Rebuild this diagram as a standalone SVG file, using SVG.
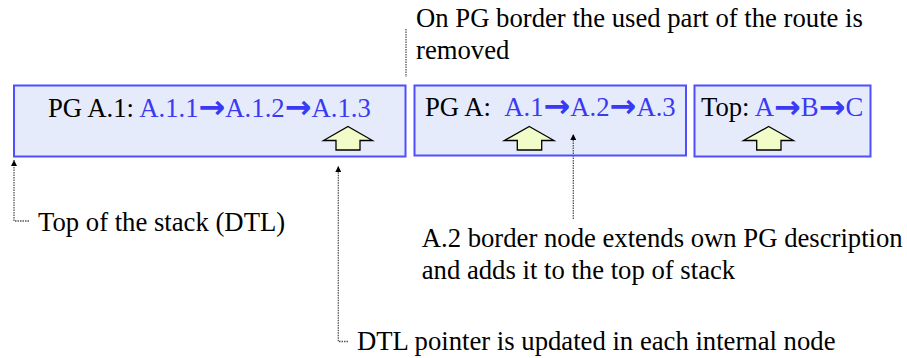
<svg xmlns="http://www.w3.org/2000/svg" width="907" height="358" viewBox="0 0 907 358">
<defs>
<style>
.box{fill:#E6EBFB;stroke:#4F4FFF;stroke-width:2}
.t{font-family:"Liberation Serif","Times New Roman",Times,serif;font-size:26.7px;fill:#000}
.b{fill:#3A3AF5}
.ar{font-family:"DejaVu Sans",sans-serif;font-weight:bold;font-size:32px}
.ptr{fill:#F2FCC8;stroke:#000;stroke-width:1.3;stroke-linejoin:miter}
.dot{fill:none;stroke:#555;stroke-width:1.3;stroke-dasharray:1.5 1}
</style>
<marker id="ah" viewBox="0 0 10 10" refX="10" refY="5" markerWidth="6" markerHeight="6" markerUnits="userSpaceOnUse" orient="auto">
<path d="M0,0 L10,5 L0,10 z" fill="#000"/>
</marker>
</defs>
<rect width="907" height="358" fill="#fff"/>
<g id="box-pg-a1">
<rect class="box" x="14" y="85.5" width="391.5" height="71"/>
<text class="t" x="48" y="116.5">PG A.1: <tspan class="b">A.1.1<tspan class="ar" dy="1.5">→</tspan><tspan dy="-1.5">A.1.2</tspan><tspan class="ar" dy="1.5">→</tspan><tspan dy="-1.5">A.1.3</tspan></tspan></text>
<path class="ptr" d="M348,126.5 L372.5,140.5 L360,140.5 L360,150 L336,150 L336,140.5 L323.5,140.5 z"/>
</g>
<g id="box-pg-a">
<rect class="box" x="414.5" y="85.5" width="271.5" height="70"/>
<text class="t" x="425" y="115.5">PG A:  <tspan class="b" dx="8">A.1<tspan class="ar" dy="1.5">→</tspan><tspan dy="-1.5">A.2</tspan><tspan class="ar" dy="1.5">→</tspan><tspan dy="-1.5">A.3</tspan></tspan></text>
<path class="ptr" d="M529.3,126.5 L554,140.5 L541.7,140.5 L541.7,150 L517.3,150 L517.3,140.5 L504.3,140.5 z"/>
</g>
<g id="box-top">
<rect class="box" x="694.5" y="85.5" width="176" height="71"/>
<text class="t" x="701" y="116">Top: <tspan class="b">A<tspan class="ar" dy="1.5">→</tspan><tspan dy="-1.5">B</tspan><tspan class="ar" dy="1.5">→</tspan><tspan dy="-1.5">C</tspan></tspan></text>
<path class="ptr" d="M768.7,126.5 L793.5,140.5 L781,140.5 L781,150 L756.7,150 L756.7,140.5 L743.5,140.5 z"/>
</g>
<g id="connectors">
<path class="dot" d="M29,221 L14,221 L14,160" marker-end="url(#ah)"/>
<path class="dot" d="M348,341.5 L338.3,341.5 L338.3,166" marker-end="url(#ah)"/>
<path class="dot" d="M573.3,219 L573.3,134" marker-end="url(#ah)"/>
<path class="dot" d="M406,29 L406,77"/>
</g>
<g id="labels">
<text class="t" x="416" y="27">On PG border the used part of the route is</text>
<text class="t" x="416" y="59">removed</text>
<text class="t" x="38" y="231">Top of the stack (DTL)</text>
<text class="t" x="421.7" y="246.5">A.2 border node extends own PG description</text>
<text class="t" x="421.7" y="278.5">and adds it to the top of stack</text>
<text class="t" x="357" y="350">DTL pointer is updated in each internal node</text>
</g>
</svg>
